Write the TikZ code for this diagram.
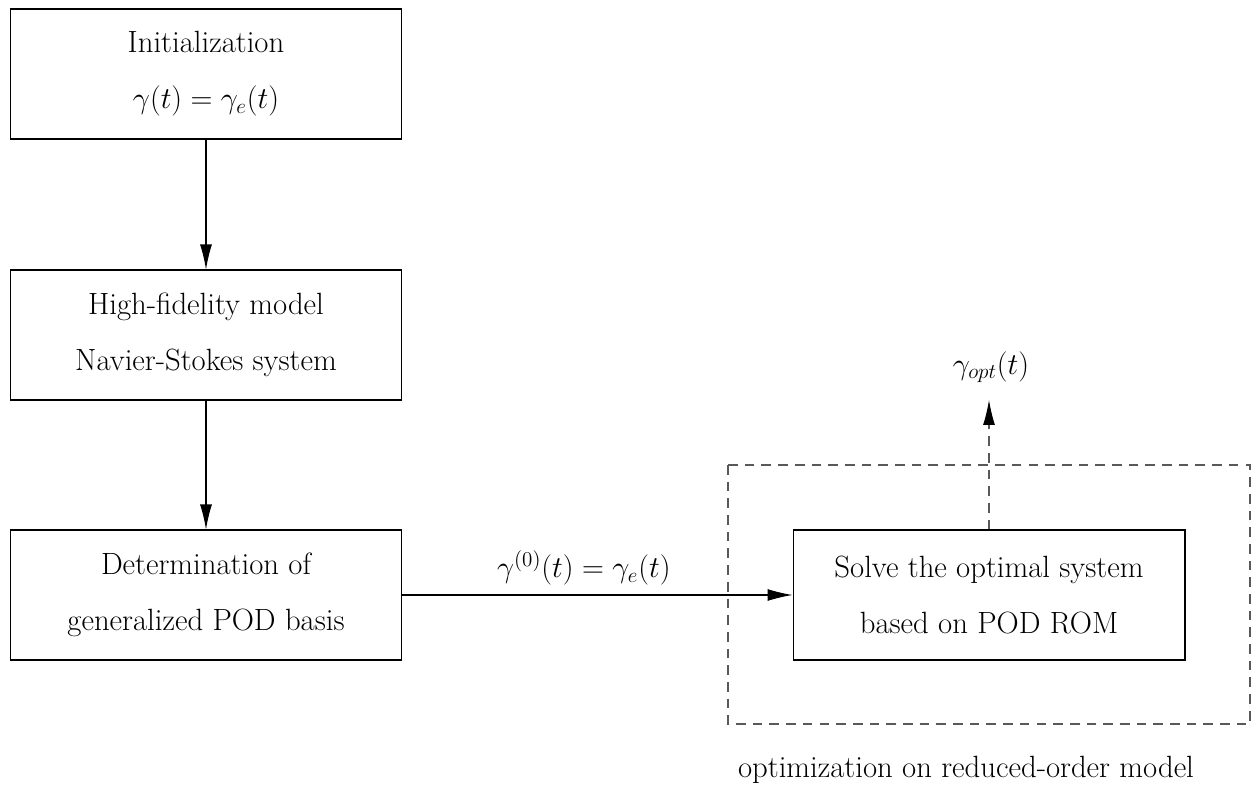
\documentclass[tikz,border=0pt]{standalone}
\usetikzlibrary{arrows.meta, positioning}

\begin{document}
\begin{tikzpicture}[x=0.02cm, y=-0.02cm, font=\fontsize{17.5}{21}\selectfont, every path/.style={line width=0.6pt},
    box/.style={draw, minimum width=7.84cm, minimum height=2.6cm, align=center},
    flow/.style={-{Latex[length=0.5cm, width=0.24cm, color=black]}}]

\useasboundingbox (0,0) rectangle (1258,787);

% Offline stage
\node (init) at (206,74) [box] {Initialization\\[11pt] $\gamma(t)=\gamma_e(t)$};
\node (hifi) at (206,335) [box] {High-fidelity model\\[11pt] Navier-Stokes system};
\node (pod) at (206,595) [box] {Determination of\\[11pt] generalized POD basis};

\draw [flow] (init) -- (hifi);
\draw [flow] (hifi) -- (pod);

% Online stage
\node (rom) at (989,595) [box] {Solve the optimal system\\[11pt] based on POD ROM};
\draw [flow] (pod) -- node [above=2pt, pos=0.465] {$\gamma^{(0)}(t)=\gamma_e(t)$} (rom);

\draw [gray!70!black, dash pattern=on 5.5pt off 4pt] (728,465) rectangle (1250,724);
\node (optlabel) at (966,770) {optimization on reduced-order model};

\node (gopt) at (991,367) {$\gamma_{opt}(t)$};
\draw [flow, gray!70!black, dash pattern=on 5.5pt off 4pt] (rom.north) -- (rom.north |- 0,400);

\end{tikzpicture}
\end{document}
